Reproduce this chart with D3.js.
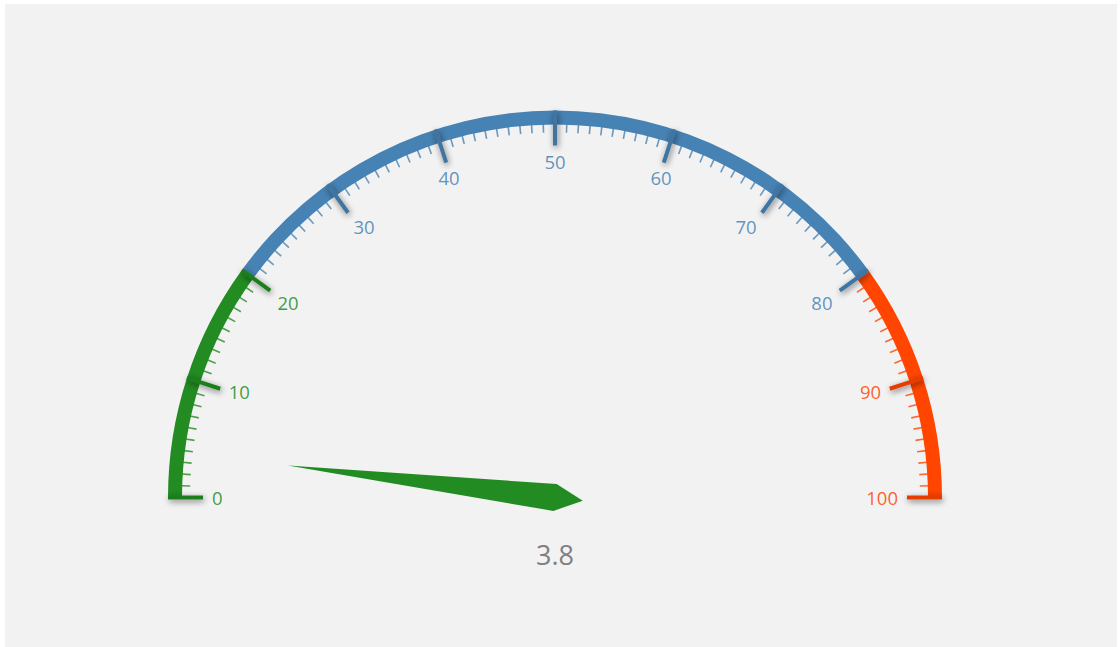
<!DOCTYPE html>
<html>
<head>
<meta charset="utf-8">
<script src="https://cdn.jsdelivr.net/npm/d3@7"></script>
<style>
  html, body { margin: 0; padding: 0; background: #ffffff; }
  svg { display: block; }
</style>
</head>
<body>
<svg id="chart" width="1120" height="647"></svg>
<script>
// Gauge value and scale configuration
const gaugeValue = 3.8;
const scaleMin = 0;
const scaleMax = 100;
const majorTickValues = [0, 10, 20, 30, 40, 50, 60, 70, 80, 90, 100];
const majorTickLabels = ["0", "10", "20", "30", "40", "50", "60", "70", "80", "90", "100"];
const minorTickStep = 1;

// Colour bands along the scale
const rangeStarts = [0, 20, 80];
const rangeEnds = [20, 80, 100];
const rangeColors = ["#228B22", "#4682B4", "#FF4500"];

const W = 1120, H = 647;
const cx = 555, cy = 497.5;
const outerR = 387, bandWidth = 14;
const innerR = outerR - bandWidth;

const svg = d3.select("#chart");

// panel background
svg.append("rect")
  .attr("x", 5).attr("y", 4)
  .attr("width", 1112).attr("height", 643)
  .attr("fill", "#f2f2f2");

// soft shadow used under the major ticks (user-space region so straight
// horizontal / vertical ticks keep their shadow)
const defs = svg.append("defs");
const shadow = defs.append("filter").attr("id", "tickShadow")
  .attr("filterUnits", "userSpaceOnUse")
  .attr("x", 0).attr("y", 0).attr("width", W).attr("height", H);
shadow.append("feGaussianBlur").attr("in", "SourceAlpha").attr("stdDeviation", 3.2).attr("result", "blur");
shadow.append("feOffset").attr("in", "blur").attr("dx", 1).attr("dy", 1.5).attr("result", "off");
shadow.append("feComponentTransfer").attr("in", "off").attr("result", "shade")
  .append("feFuncA").attr("type", "linear").attr("slope", 0.55);
const merge = shadow.append("feMerge");
merge.append("feMergeNode").attr("in", "shade");
merge.append("feMergeNode").attr("in", "SourceGraphic");

// value -> angle (d3 convention: 0 at twelve o'clock, clockwise)
const angle = d3.scaleLinear().domain([scaleMin, scaleMax]).range([-Math.PI / 2, Math.PI / 2]);
const pt = (v, r) => {
  const a = angle(v);
  return [cx + r * Math.sin(a), cy - r * Math.cos(a)];
};
// a boundary value takes the colour of the band that ends there
const colorOf = v => {
  for (let i = 0; i < rangeStarts.length; i++) {
    if (v >= rangeStarts[i] && v <= rangeEnds[i]) return rangeColors[i];
  }
  return rangeColors[rangeColors.length - 1];
};

const g = svg.append("g");

// coloured bands
const arc = d3.arc().innerRadius(innerR).outerRadius(outerR);
g.selectAll("path.band")
  .data(rangeStarts.map((s, i) => ({ s, e: rangeEnds[i], c: rangeColors[i] })))
  .join("path")
  .attr("class", "band")
  .attr("transform", `translate(${cx},${cy})`)
  .attr("d", d => arc({ startAngle: angle(d.s), endAngle: angle(d.e) }))
  .attr("fill", d => d.c);

// minor ticks
const minorValues = d3.range(scaleMin, scaleMax + minorTickStep / 2, minorTickStep)
  .filter(v => !majorTickValues.includes(v));
g.selectAll("line.minor")
  .data(minorValues)
  .join("line")
  .attr("class", "minor")
  .attr("x1", v => pt(v, innerR + 1)[0]).attr("y1", v => pt(v, innerR + 1)[1])
  .attr("x2", v => pt(v, innerR - 8)[0]).attr("y2", v => pt(v, innerR - 8)[1])
  .attr("stroke", v => colorOf(v))
  .attr("stroke-opacity", 0.8)
  .attr("stroke-width", 1.6);

// major ticks
g.selectAll("line.major")
  .data(majorTickValues)
  .join("line")
  .attr("class", "major")
  .attr("x1", v => pt(v, outerR)[0]).attr("y1", v => pt(v, outerR)[1])
  .attr("x2", v => pt(v, outerR - 35)[0]).attr("y2", v => pt(v, outerR - 35)[1])
  .attr("stroke", v => d3.color(colorOf(v)).darker(0.3))
  .attr("stroke-width", 4)
  .attr("filter", "url(#tickShadow)");

// tick labels, placed so the edge nearest the band touches the label radius
const labelR = 343;
g.selectAll("text.tick")
  .data(majorTickValues)
  .join("text")
  .attr("class", "tick")
  .attr("x", v => pt(v, labelR)[0])
  .attr("y", v => pt(v, labelR)[1])
  .attr("text-anchor", v => {
    const s = Math.sin(angle(v));
    return s < -0.5 ? "start" : (s > 0.5 ? "end" : "middle");
  })
  .attr("dominant-baseline", v => Math.cos(angle(v)) > 0.5 ? "hanging" : "central")
  .attr("dy", v => Math.cos(angle(v)) > 0.5 ? "-0.1em" : "0")
  .attr("fill", v => colorOf(v))
  .attr("fill-opacity", 0.85)
  .style("font-family", "'Open Sans', 'Noto Sans', sans-serif")
  .style("font-size", "18.5px")
  .text((v, i) => majorTickLabels[i]);

// needle
const needleLen = 269, needleHalf = 13.5, needleTail = 28;
const a = angle(gaugeValue);
const dir = [Math.sin(a), -Math.cos(a)];
const perp = [-dir[1], dir[0]];
const needlePts = [
  [cx + dir[0] * needleLen, cy + dir[1] * needleLen],
  [cx + perp[0] * needleHalf, cy + perp[1] * needleHalf],
  [cx - dir[0] * needleTail, cy - dir[1] * needleTail],
  [cx - perp[0] * needleHalf, cy - perp[1] * needleHalf]
];
g.append("path")
  .attr("d", d3.line()(needlePts) + "Z")
  .attr("fill", colorOf(gaugeValue));

// value readout
g.append("text")
  .attr("x", cx)
  .attr("y", cy + 57)
  .attr("text-anchor", "middle")
  .attr("dominant-baseline", "central")
  .attr("fill", "#808080")
  .style("font-family", "'Open Sans', 'Noto Sans', sans-serif")
  .style("font-size", "27px")
  .text(d3.format(".1f")(gaugeValue));
</script>
</body>
</html>
